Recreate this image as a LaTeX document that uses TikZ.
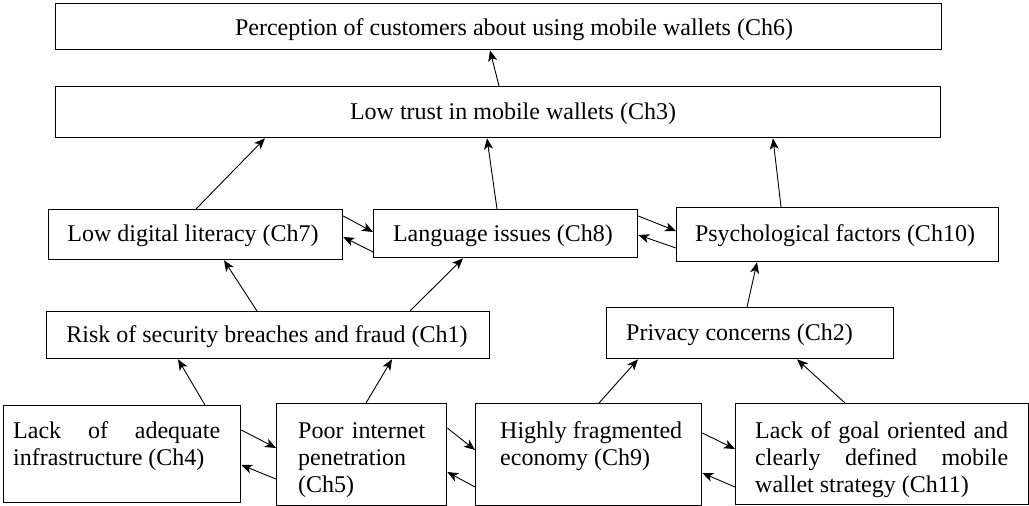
\documentclass[tikz,border=0pt]{standalone}
\usepackage{fontspec}
\setmainfont{Liberation Serif}
\usetikzlibrary{arrows.meta}
\tikzset{
  box/.style={draw=black, line width=1.3pt, rectangle, inner sep=0pt, anchor=north west},
  lbl/.style={inner sep=0pt, font=\fontsize{24}{27}\selectfont},
  para/.style={lbl, anchor=base west, align=justify},
  arr/.style={line width=0.9pt, -{Stealth[length=11pt,width=9pt,inset=3pt]}},
}
\begin{document}
\begin{tikzpicture}[x=1pt,y=-1pt]
\useasboundingbox (0,0) rectangle (1029,506);
% boxes
\node[box, minimum width=886pt, minimum height=46pt] (ch6) at (55,3) {};
\node[box, minimum width=885pt, minimum height=51pt] (ch3) at (55,86) {};
\node[box, minimum width=294pt, minimum height=50pt] (ch7) at (48,209) {};
\node[box, minimum width=264pt, minimum height=48pt] (ch8) at (373,209) {};
\node[box, minimum width=322pt, minimum height=54pt] (ch10) at (676,207) {};
\node[box, minimum width=443pt, minimum height=47pt] (ch1) at (46,311) {};
\node[box, minimum width=287pt, minimum height=51pt] (ch2) at (606,307) {};
\node[box, minimum width=237pt, minimum height=97pt] (ch4) at (3,405) {};
\node[box, minimum width=170pt, minimum height=102pt] (ch5) at (276,403) {};
\node[box, minimum width=226pt, minimum height=102pt] (ch9) at (475,403) {};
\node[box, minimum width=293pt, minimum height=101pt] (ch11) at (735,403) {};
% texts
\node[lbl, anchor=base] (t6) at (514,35) {Perception of customers about using mobile wallets (Ch6)};
\node[lbl, anchor=base] (t3) at (513,119) {Low trust in mobile wallets (Ch3)};
\node[lbl, anchor=base] (t7) at (193,241) {Low digital literacy (Ch7)};
\node[lbl, anchor=base] (t8) at (503,241) {Language issues (Ch8)};
\node[lbl, anchor=base] (t10) at (835,241) {Psychological factors (Ch10)};
\node[lbl, anchor=base] (t1) at (267,342) {Risk of security breaches and fraud (Ch1)};
\node[lbl, anchor=base west] (t2) at (626,340) {Privacy concerns (Ch2)};
\node[para, text width=207pt] (t4) at (13,438) {Lack of adequate\linebreak infrastructure (Ch4)};
\node[para, text width=127pt] (t5) at (298,438) {Poor internet\linebreak penetration\\(Ch5)};
\node[para, text width=182pt] (t9) at (500,438) {Highly fragmented\linebreak economy (Ch9)};
\node[para, text width=253pt] (t11) at (755,438) {Lack of goal oriented and\linebreak clearly defined mobile\linebreak wallet strategy (Ch11)};
% arrows
\draw[arr] (499,0 |- ch3.north) -- (490,0 |- ch6.south);
\draw[arr] (196,0 |- ch7.north) -- (265,0 |- ch3.south);
\draw[arr] (497,0 |- ch8.north) -- (487,0 |- ch3.south);
\draw[arr] (781,0 |- ch10.north) -- (773,0 |- ch3.south);
\draw[arr] (ch7.east |- 0,216) -- (ch8.west |- 0,232);
\draw[arr] (ch8.west |- 0,252) -- (ch7.east |- 0,237);
\draw[arr] (ch8.east |- 0,216) -- (ch10.west |- 0,231);
\draw[arr] (ch10.west |- 0,248) -- (ch8.east |- 0,235);
\draw[arr] (257,0 |- ch1.north) -- (224,0 |- ch7.south);
\draw[arr] (410,0 |- ch1.north) -- (463,0 |- ch8.south);
\draw[arr] (747,0 |- ch2.north) -- (757,0 |- ch10.south);
\draw[arr] (205,0 |- ch4.north) -- (178,0 |- ch1.south);
\draw[arr] (366,0 |- ch5.north) -- (392,0 |- ch1.south);
\draw[arr] (599,0 |- ch9.north) -- (638,0 |- ch2.south);
\draw[arr] (845,0 |- ch11.north) -- (797,0 |- ch2.south);
\draw[arr] (ch4.east |- 0,430) -- (ch5.west |- 0,448);
\draw[arr] (ch5.west |- 0,479) -- (ch4.east |- 0,465);
\draw[arr] (ch5.east |- 0,428) -- (ch9.west |- 0,450);
\draw[arr] (ch9.west |- 0,487) -- (ch5.east |- 0,472);
\draw[arr] (ch9.east |- 0,433) -- (ch11.west |- 0,449);
\draw[arr] (ch11.west |- 0,487) -- (ch9.east |- 0,473);
\end{tikzpicture}
\end{document}
